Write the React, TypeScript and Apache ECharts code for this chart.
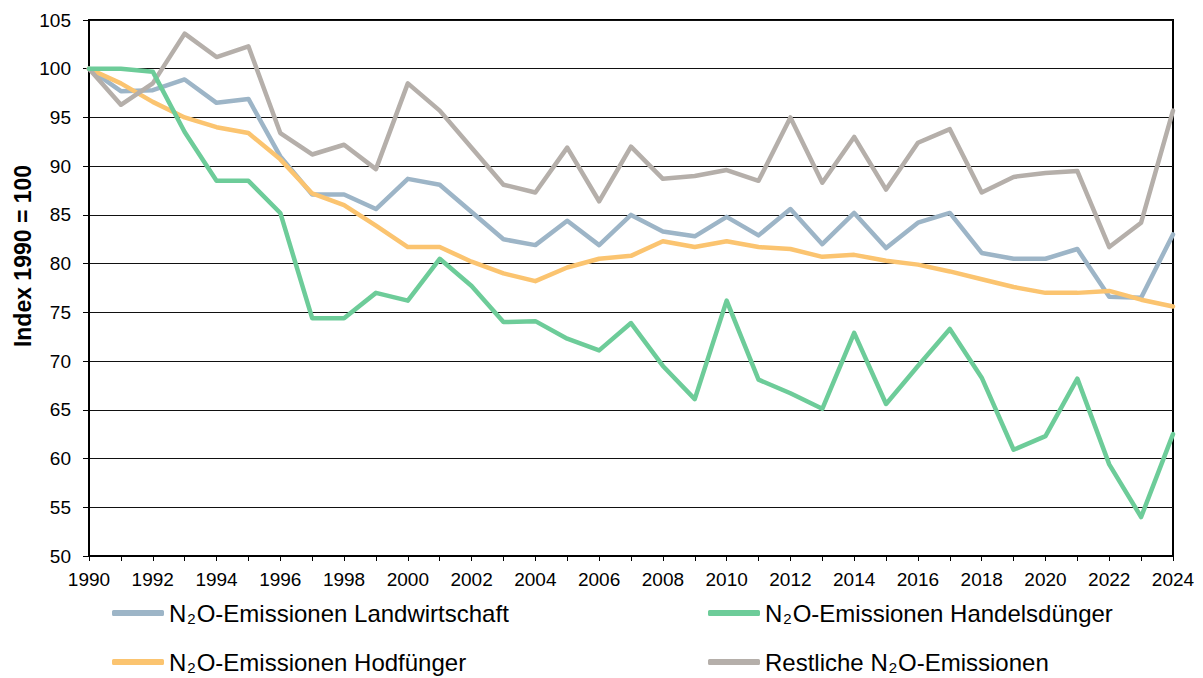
import React, { useEffect, useRef } from "react";
import * as echarts from "echarts";

const years = [
  "1990", "1991", "1992", "1993", "1994", "1995", "1996", "1997", "1998", "1999",
  "2000", "2001", "2002", "2003", "2004", "2005", "2006", "2007", "2008", "2009",
  "2010", "2011", "2012", "2013", "2014", "2015", "2016", "2017", "2018", "2019",
  "2020", "2021", "2022", "2023", "2024",
];

const landwirtschaft = [
  100, 97.7, 97.8, 98.9, 96.5, 96.9, 91.0, 87.1, 87.1, 85.6,
  88.7, 88.1, 85.3, 82.5, 81.9, 84.4, 81.9, 85.0, 83.3, 82.8,
  84.8, 82.9, 85.6, 82.0, 85.2, 81.6, 84.2, 85.2, 81.1, 80.5,
  80.5, 81.5, 76.6, 76.5, 83.0,
];

const handelsduenger = [
  100, 100, 99.7, 93.5, 88.5, 88.5, 85.2, 74.4, 74.4, 77.0,
  76.2, 80.5, 77.7, 74.0, 74.1, 72.3, 71.1, 73.9, 69.5, 66.1,
  76.2, 68.1, 66.7, 65.1, 72.9, 65.6, 69.5, 73.3, 68.3, 60.9,
  62.3, 68.2, 59.4, 54.0, 62.5,
];

const hofduenger = [
  100, 98.5, 96.6, 95.0, 94.0, 93.4, 90.7, 87.2, 86.0, 83.9,
  81.7, 81.7, 80.2, 79.0, 78.2, 79.6, 80.5, 80.8, 82.3, 81.7,
  82.3, 81.7, 81.5, 80.7, 80.9, 80.3, 79.9, 79.2, 78.4, 77.6,
  77.0, 77.0, 77.2, 76.3, 75.6,
];

const restliche = [
  100, 96.3, 98.5, 103.6, 101.2, 102.3, 93.4, 91.2, 92.2, 89.7,
  98.5, 95.7, 91.9, 88.1, 87.3, 91.9, 86.4, 92.0, 88.7, 89.0,
  89.6, 88.5, 95.0, 88.3, 93.0, 87.6, 92.4, 93.8, 87.3, 88.9,
  89.3, 89.5, 81.7, 84.2, 95.7,
];

const seriesNames = [
  "N₂O-Emissionen Landwirtschaft",
  "N₂O-Emissionen Handelsdünger",
  "N₂O-Emissionen Hodfünger",
  "Restliche N₂O-Emissionen",
];
const legendRich = [
  "{t|N}{s|2}{t|O-Emissionen Landwirtschaft}",
  "{t|N}{s|2}{t|O-Emissionen Handelsdünger}",
  "{t|N}{s|2}{t|O-Emissionen Hodfünger}",
  "{t|Restliche N}{s|2}{t|O-Emissionen}",
];
const yAxisTitle = "Index 1990 = 100";
const seriesData = [landwirtschaft, handelsduenger, hofduenger, restliche];
const colors = ["#9DB5C7", "#6DCC99", "#FBC470", "#B5AFAA"];
const legendPos = [
  { left: 112, top: 600 },
  { left: 708, top: 600 },
  { left: 112, top: 649 },
  { left: 708, top: 649 },
];

const FONT = "Liberation Sans";

export default function App() {
  const ref = useRef<HTMLDivElement>(null);
  useEffect(() => {
    if (!ref.current) return;
    const chart = echarts.init(ref.current, undefined, { renderer: "svg" });
    chart.setOption({
      animation: false,
      backgroundColor: "#ffffff",
      textStyle: { fontFamily: FONT },
      grid: {
        left: 89,
        top: 20,
        width: 1084,
        height: 536,
        show: true,
        borderColor: "#000",
        borderWidth: 2,
        containLabel: false,
      },
      graphic: [
        {
          type: "text",
          x: 23,
          y: 256,
          rotation: Math.PI / 2,
          style: {
            text: yAxisTitle,
            fontFamily: FONT,
            fontSize: 23,
            fontWeight: "bold",
            fill: "#000",
            align: "center",
            verticalAlign: "middle",
          },
        },
      ],
      legend: seriesNames.map((n, i) => ({
        data: [n],
        left: legendPos[i].left,
        top: legendPos[i].top,
        icon: "roundRect",
        itemWidth: 52,
        itemHeight: 6,
        itemGap: 0,
        padding: 0,
        selectedMode: false,
        formatter: () => legendRich[i],
        textStyle: {
          fontFamily: FONT,
          fontSize: 24,
          color: "#000",
          rich: {
            t: { fontFamily: FONT, fontSize: 24, color: "#000", lineHeight: 28 },
            s: { fontFamily: FONT, fontSize: 15, color: "#000", lineHeight: 28, padding: [11, 1, 0, 1] },
          },
        },
      })),
      xAxis: {
        type: "category",
        data: years,
        boundaryGap: false,
        axisLine: { lineStyle: { color: "#000", width: 2 } },
        axisTick: { show: true, interval: 0, length: 5, lineStyle: { color: "#000", width: 1 } },
        axisLabel: { interval: 1, color: "#000", fontSize: 19, margin: 14, fontFamily: FONT },
        splitLine: { show: false },
      },
      yAxis: {
        type: "value",
        min: 50,
        max: 105,
        interval: 5,
        axisLine: { show: true, lineStyle: { color: "#000", width: 2 } },
        axisTick: { show: true, length: 6, lineStyle: { color: "#000", width: 1 } },
        axisLabel: { color: "#000", fontSize: 19, margin: 18, fontFamily: FONT },
        splitLine: { show: true, lineStyle: { color: "#111", width: 1 } },
      },
      series: seriesNames.map((n, i) => ({
        name: n,
        type: "line",
        data: seriesData[i],
        symbol: "none",
        color: colors[i],
        lineStyle: { width: 4.5, color: colors[i], cap: "round", join: "round" },
        z: i === 1 ? 5 : 3,
      })),
    });
    return () => chart.dispose();
  }, []);
  return (
    <div
      ref={ref}
      style={{ position: "fixed", left: 0, top: 0, width: 1203, height: 678 }}
    />
  );
}
